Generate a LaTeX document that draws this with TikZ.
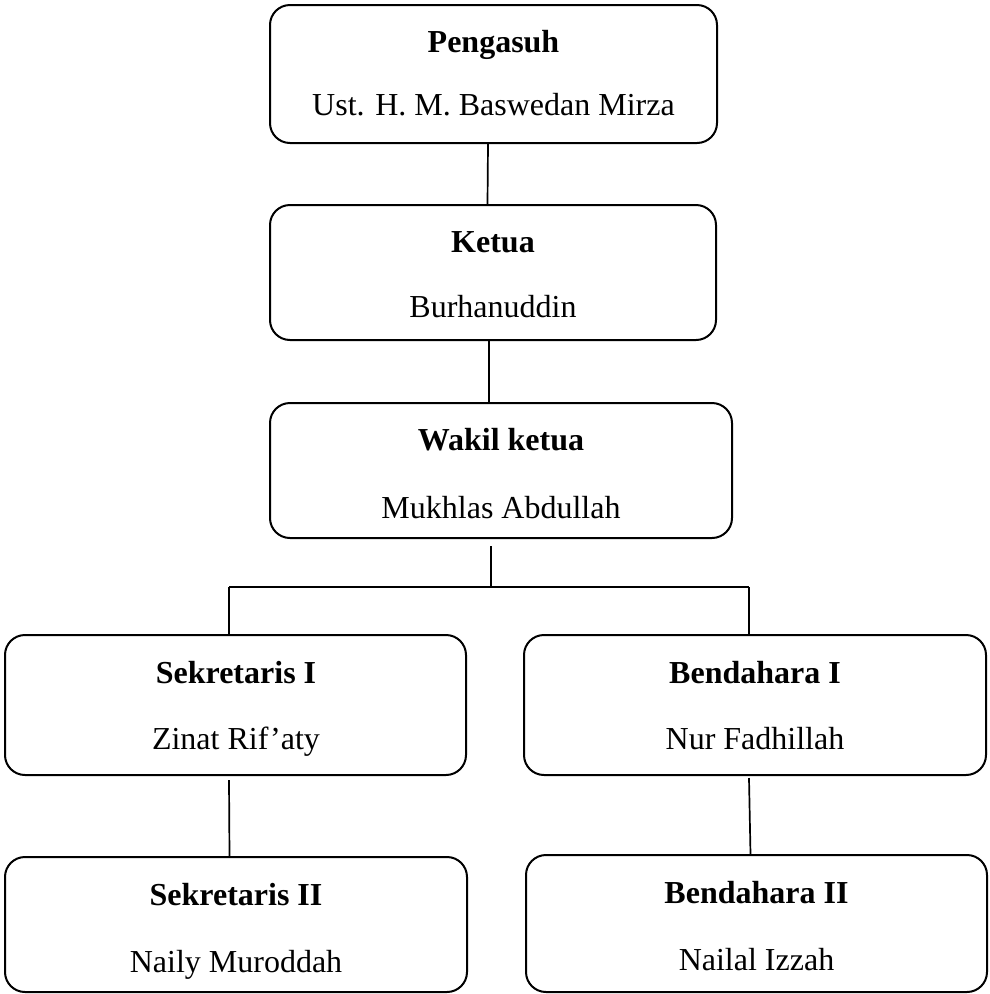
\documentclass[tikz,border=0pt]{standalone}
\usepackage{fontspec}
\setmainfont{Liberation Serif}
\begin{document}
\begin{tikzpicture}[x=1pt,y=-1pt,
  box/.style={draw,line width=2pt,rounded corners=20pt,inner sep=0pt},
  ttl/.style={anchor=base,inner sep=0pt,font=\fontsize{32}{36}\selectfont\bfseries},
  nm/.style={anchor=base,inner sep=0pt,font=\fontsize{32}{36}\selectfont},
  conn/.style={line width=1.7pt}]
\useasboundingbox (0,0) rectangle (989,994);
% boxes
\node[box,minimum width=447pt,minimum height=138pt] (b1) at (493.5,74) {};
\node[box,minimum width=446pt,minimum height=135pt] (b2) at (493,272.5) {};
\node[box,minimum width=462pt,minimum height=135pt] (b3) at (501,470.5) {};
\node[box,minimum width=461pt,minimum height=140pt] (b4) at (235.5,705) {};
\node[box,minimum width=462pt,minimum height=140pt] (b5) at (755,705) {};
\node[box,minimum width=462pt,minimum height=135pt] (b6) at (236,924.5) {};
\node[box,minimum width=461pt,minimum height=137pt] (b7) at (756.5,923.5) {};
% texts
\node[ttl] (t1) at (493.5,52) {Pengasuh};
\node[nm]  (n1) at (493.5,115) {Ust. H. M. Baswedan Mirza};
\node[ttl] (t2) at (493,252) {Ketua};
\node[nm]  (n2) at (493,317) {Burhanuddin};
\node[ttl] (t3) at (501,450) {Wakil ketua};
\node[nm]  (n3) at (501,518) {Mukhlas Abdullah};
\node[ttl] (t4) at (236,683) {Sekretaris I};
\node[nm]  (n4) at (236,749) {Zinat Rif’aty};
\node[ttl] (t5) at (755,683) {Bendahara I};
\node[nm]  (n5) at (755,749) {Nur Fadhillah};
\node[ttl] (t6) at (236,905) {Sekretaris II};
\node[nm]  (n6) at (236,972) {Naily Muroddah};
\node[ttl] (t7) at (756.5,903) {Bendahara II};
\node[nm]  (n7) at (756.5,970) {Nailal Izzah};
% connectors
\coordinate (j) at (491,587);
\coordinate (jl) at (229,587);
\coordinate (jr) at (749,587);
\draw[conn] ([xshift=-5.5pt]b1.south) -- ([xshift=-5.5pt]b2.north);
\draw[conn] ([xshift=-4pt]b2.south) -- ([xshift=-12pt]b3.north);
\draw[conn] ([xshift=-10pt,yshift=-7pt]b3.south) -- (j);
\draw[conn] (jl) -- (jr);
\draw[conn] (jl) -- (jl |- b4.north);
\draw[conn] (jr) -- (jr |- b5.north);
\draw[conn] ([xshift=-6.5pt,yshift=-4pt]b4.south) -- ([xshift=-6.5pt]b6.north);
\draw[conn] ([xshift=-6pt,yshift=-2pt]b5.south) -- ([xshift=-6pt]b7.north);
\end{tikzpicture}
\end{document}
